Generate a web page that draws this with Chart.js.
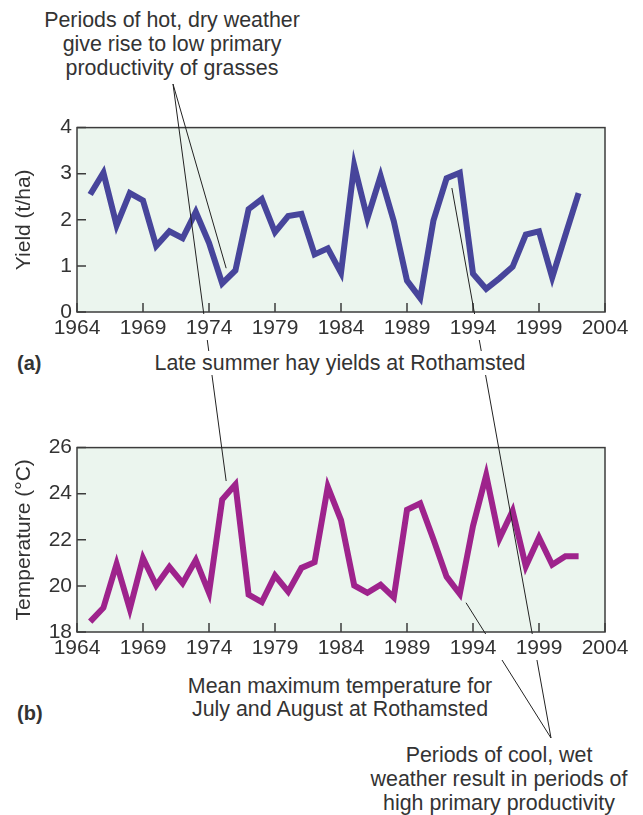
<!DOCTYPE html>
<html>
<head>
<meta charset="utf-8">
<script src="https://cdn.jsdelivr.net/npm/chart.js@4.4.1/dist/chart.umd.min.js"></script>
<style>
  body { margin: 0; background: #fff; font-family: "Liberation Sans", Arial, sans-serif; color: #333; }
  #page { position: relative; width: 643px; height: 815px; overflow: hidden; }
  .chartBox { position: absolute; left: 0; width: 643px; height: 240px; }
  .txt { position: absolute; font-size: 21.4px; line-height: 24px; text-align: center; white-space: nowrap; }
  .tag { position: absolute; font-size: 20px; font-weight: bold; }
  #leaders { position: absolute; left: 0; top: 0; pointer-events: none; z-index: 5; }
</style>
</head>
<body>
<div id="page">
  <div class="txt" style="left:12px;top:8px;width:320px;">
    <span>Periods of hot, dry weather</span><br><span>give rise to low primary</span><br><span>productivity of grasses</span>
  </div>

  <div class="chartBox" style="top:110px;"><canvas id="chartA" width="643" height="240"></canvas></div>
  <div class="tag" style="left:17px;top:352px;">(a)</div>
  <div class="txt" style="left:130px;top:351px;width:420px;"><span>Late summer hay yields at Rothamsted</span></div>

  <div class="chartBox" style="top:430px;"><canvas id="chartB" width="643" height="240"></canvas></div>
  <div class="tag" style="left:17px;top:702px;">(b)</div>
  <div class="txt" style="left:130px;top:675px;width:420px;line-height:23px;">
    <span>Mean maximum temperature for</span><br><span>July and August at Rothamsted</span>
  </div>

  <div class="txt" style="left:339px;top:743px;width:320px;">
    <span>Periods of cool, wet</span><br><span>weather result in periods of</span><br><span>high primary productivity</span>
  </div>

  <canvas id="leaders" width="643" height="815"></canvas>
</div>

<script>
// years of the records
const years = [1965, 1966, 1967, 1968, 1969, 1970, 1971, 1972, 1973, 1974,
               1975, 1976, 1977, 1978, 1979, 1980, 1981, 1982, 1983, 1984,
               1985, 1986, 1987, 1988, 1989, 1990, 1991, 1992, 1993, 1994,
               1995, 1996, 1997, 1998, 1999, 2000, 2001, 2002];

// (a) hay yield, t/ha
const hayYield = [2.55, 3.02, 1.88, 2.58, 2.42, 1.43, 1.75, 1.60, 2.17, 1.50,
                  0.62, 0.90, 2.23, 2.45, 1.73, 2.08, 2.13, 1.25, 1.38, 0.85,
                  3.18, 2.03, 2.95, 1.97, 0.68, 0.30, 1.98, 2.90, 3.02, 0.83,
                  0.50, 0.73, 0.98, 1.68, 1.75, 0.75, 1.67, 2.58];

// (b) mean max temperature July/August, °C
const maxTemp = [18.45, 19.05, 20.95, 19.00, 21.20, 20.02, 20.82, 20.12, 21.12, 19.70,
                 23.75, 24.40, 19.62, 19.30, 20.45, 19.75, 20.78, 21.03, 24.30, 22.85,
                 20.02, 19.70, 20.05, 19.50, 23.30, 23.58, 22.02, 20.40, 19.65, 22.60,
                 24.80, 22.05, 23.25, 20.85, 22.10, 20.92, 21.29, 21.29];

// tick labels
const yearTicks = [1964, 1969, 1974, 1979, 1984, 1989, 1994, 1999, 2004];
const yieldTicks = [0, 1, 2, 3, 4];
const tempTicks = [18, 20, 22, 24, 26];

const textColor = '#333';
const plotFill = '#ebf5ee';
const fontFamily = '"Liberation Sans", Arial, sans-serif';

// background, border and inward tick marks
const frame = {
    id: 'frame',
    beforeDraw(chart) {
        const a = chart.chartArea, c = chart.ctx;
        c.save();
        c.fillStyle = plotFill;
        c.fillRect(a.left, a.top, a.right - a.left, a.bottom - a.top);
        c.restore();
    },
    afterDraw(chart) {
        const a = chart.chartArea, c = chart.ctx;
        const sx = chart.scales.x, sy = chart.scales.y;
        c.save();
        c.strokeStyle = '#3c3c3c';
        c.lineWidth = 1.5;
        c.beginPath();
        sx.ticks.forEach(t => {
            const x = sx.getPixelForValue(t.value);
            c.moveTo(x, a.bottom);
            c.lineTo(x, a.bottom - 9);
        });
        sy.ticks.forEach(t => {
            const y = sy.getPixelForValue(t.value);
            c.moveTo(a.left, y);
            c.lineTo(a.left + 9, y);
        });
        c.stroke();
        c.strokeRect(a.left, a.top, a.right - a.left, a.bottom - a.top);
        c.restore();
    }
};

function makeChart(id, values, color, yTicks, yTitle) {
    return new Chart(document.getElementById(id), {
        type: 'line',
        data: {
            datasets: [{
                data: years.map((y, i) => ({ x: y, y: values[i] })),
                borderColor: color,
                borderWidth: 6,
                borderJoinStyle: 'miter',
                pointRadius: 0,
                tension: 0,
                fill: false
            }]
        },
        options: {
            responsive: false,
            animation: false,
            events: [],
            layout: { padding: { top: 13, right: 38, bottom: 0, left: 0 } },
            plugins: { legend: { display: false }, tooltip: { enabled: false } },
            scales: {
                x: {
                    type: 'linear',
                    min: yearTicks[0],
                    max: yearTicks[yearTicks.length - 1],
                    afterBuildTicks: s => { s.ticks = yearTicks.map(v => ({ value: v })); },
                    afterFit: s => { s.height = 38; },
                    grid: { display: false, drawTicks: false },
                    border: { display: false },
                    ticks: {
                        maxRotation: 0,
                        padding: 4,
                        color: textColor,
                        font: { family: fontFamily, size: 21 },
                        callback: v => String(v)
                    }
                },
                y: {
                    min: yTicks[0],
                    max: yTicks[yTicks.length - 1],
                    afterBuildTicks: s => { s.ticks = yTicks.map(v => ({ value: v })); },
                    afterFit: s => { s.width = 77; },
                    grid: { display: false, drawTicks: false },
                    border: { display: false },
                    ticks: {
                        padding: 5,
                        color: textColor,
                        font: { family: fontFamily, size: 21 },
                        callback: v => String(v)
                    },
                    title: {
                        display: true,
                        text: yTitle,
                        color: textColor,
                        padding: { top: 12, bottom: 0 },
                        font: { family: fontFamily, size: 21 }
                    }
                }
            }
        },
        plugins: [frame]
    });
}

const chartA = makeChart('chartA', hayYield, '#47459b', yieldTicks, 'Yield (t/ha)');
const chartB = makeChart('chartB', maxTemp, '#9e238c', tempTicks, 'Temperature (°C)');

// leader lines from the notes to the curves
function drawLeaders() {
    const page = document.getElementById('page').getBoundingClientRect();
    const cv = document.getElementById('leaders');
    const c = cv.getContext('2d');
    c.clearRect(0, 0, cv.width, cv.height);

    function at(chart, xv, yv) {
        const r = chart.canvas.getBoundingClientRect();
        return [r.left - page.left + chart.scales.x.getPixelForValue(xv),
                r.top - page.top + chart.scales.y.getPixelForValue(yv)];
    }

    const hotNote = [173, 84];
    const coolNote = [551, 738];
    const leaders = [
        [hotNote, at(chartB, 1975.3, 24.55)],
        [hotNote, at(chartA, 1975.3, 0.95)],
        [at(chartA, 1992.4, 2.69), coolNote],
        [at(chartB, 1993.47, 19.27), coolNote]
    ];

    c.strokeStyle = '#222';
    c.lineWidth = 1;
    leaders.forEach(([p, q]) => {
        c.beginPath();
        c.moveTo(p[0], p[1]);
        c.lineTo(q[0], q[1]);
        c.stroke();
    });

    // break the lines where they pass behind text
    [chartA, chartB].forEach(ch => {
        const r = ch.canvas.getBoundingClientRect();
        c.clearRect(0, r.top - page.top + ch.chartArea.bottom + 1.5, cv.width, 26);
    });
    document.querySelectorAll('.txt span').forEach(s => {
        const r = s.getBoundingClientRect();
        c.clearRect(r.left - page.left - 2, r.top - page.top, r.width + 4, r.height);
    });
}

drawLeaders();
</script>
</body>
</html>
